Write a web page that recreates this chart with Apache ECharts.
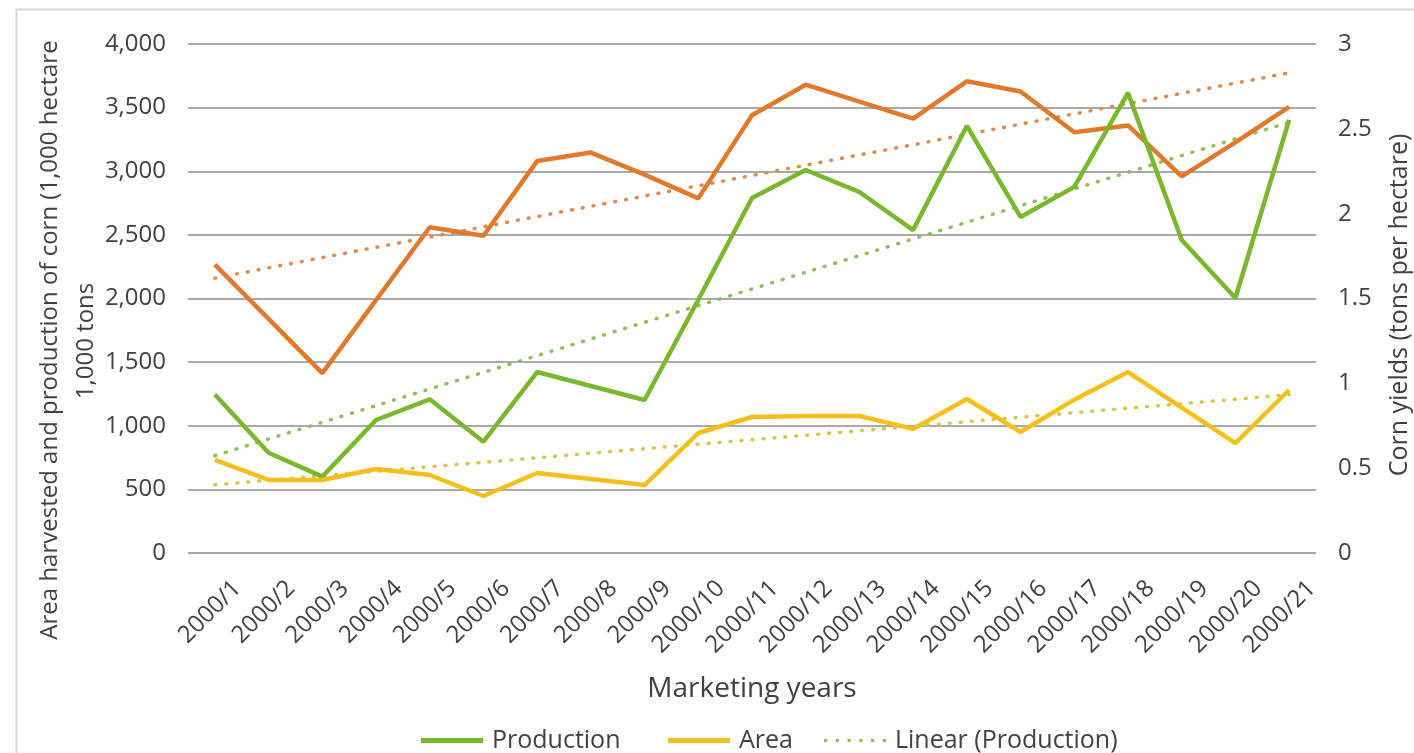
<!DOCTYPE html>
<html>
<head>
<meta charset="utf-8">
<script src="https://cdn.jsdelivr.net/npm/echarts@6/dist/echarts.min.js"></script>
<style>
html,body{margin:0;padding:0;background:#fff;overflow:hidden;width:100%;height:100%;}
#chart{width:100%;height:100%;}
</style>
</head>
<body>
<div id="chart"></div>
<script>
const categories = ['2000/1','2000/2','2000/3','2000/4','2000/5','2000/6','2000/7','2000/8','2000/9','2000/10','2000/11','2000/12','2000/13','2000/14','2000/15','2000/16','2000/17','2000/18','2000/19','2000/20','2000/21'];
const production = [1245, 788, 600, 1045, 1208, 875, 1422, 1312, 1202, 1990, 2790, 3010, 2837, 2538, 3356, 2641, 2877, 3615, 2460, 2004, 3403];
const area = [731, 574, 574, 660, 613, 448, 629, 582, 534, 943, 1069, 1077, 1077, 975, 1210, 951, 1205, 1422, 1143, 864, 1281];
const yields = [1.70, 1.38, 1.06, 1.49, 1.92, 1.87, 2.31, 2.36, 2.23, 2.09, 2.58, 2.76, 2.66, 2.56, 2.78, 2.72, 2.48, 2.52, 2.22, 2.42, 2.63];
// trend line endpoints (first and last category)
const productionTrend = [765, 3385];
const areaTrend = [536, 1244];
const yieldsTrend = [1.62, 2.83];
const leftTicks = {min: 0, max: 4000, interval: 500};
const rightTicks = {min: 0, max: 3, interval: 0.5};

const FONT = '"Open Sans", "Noto Sans", sans-serif';
const TXT = '#404040';
const GREEN = '#78b82d';
const YELLOW = '#f4bf1c';
const ORANGE = '#e07a2a';
const GREEN_DOT = '#8fbf5a';

function trend(ends){
  return [[categories[0], ends[0]], [categories[categories.length-1], ends[1]]];
}

const dotIcon = 'path://M0,0h3v3h-3z M11,0h3v3h-3z M22,0h3v3h-3z M33,0h3v3h-3z M44,0h3v3h-3z M55,0h3v3h-3z';
function legendFor(name, left, icon){
  return {
    data: [{name: name, icon: icon}],
    left: left, top: 723,
    itemWidth: 62, itemHeight: 5, itemGap: 0,
    textStyle: {fontFamily: FONT, fontSize: 25, color: TXT, padding: [0, 0, 0, 4]}
  };
}

const chart = echarts.init(document.getElementById('chart'));
chart.setOption({
  animation: false,
  backgroundColor: '#fff',
  textStyle: {fontFamily: FONT, color: TXT},
  graphic: [
    {type: 'rect', left: 14, top: 7, shape: {width: 1420, height: 770}, style: {fill: 'none', stroke: '#d4d4d4', lineWidth: 2}, z: -10},
    {type: 'text', x: 50, y: 340, rotation: Math.PI/2, style: {text: 'Area harvested and production of corn (1,000 hectare', font: '24px ' + FONT, fill: TXT, textAlign: 'center', textVerticalAlign: 'middle'}},
    {type: 'text', x: 86, y: 341, rotation: Math.PI/2, style: {text: '1,000 tons', font: '24px ' + FONT, fill: TXT, textAlign: 'center', textVerticalAlign: 'middle'}},
    {type: 'text', x: 1400, y: 305, rotation: Math.PI/2, style: {text: 'Corn yields (tons per hectare)', font: '25px ' + FONT, fill: TXT, textAlign: 'center', textVerticalAlign: 'middle'}}
  ],
  grid: {left: 188, right: 98, top: 44, bottom: 200, containLabel: false},
  legend: [
    legendFor('Production', 416, 'rect'),
    legendFor('Area', 663, 'rect'),
    legendFor('Linear (Production)', 819, dotIcon)
  ],
  xAxis: {
    type: 'category',
    data: categories,
    boundaryGap: true,
    axisLine: {show: false},
    axisTick: {show: false},
    axisLabel: {rotate: 45, interval: 0, fontSize: 24, color: TXT, fontFamily: FONT, margin: 9,
      verticalAlign: 'top', padding: [20, 0, 0, 0]},
    name: 'Marketing years',
    nameLocation: 'middle',
    nameGap: 122,
    nameTextStyle: {fontSize: 28, color: TXT, fontFamily: FONT}
  },
  yAxis: [
    {
      type: 'value', min: leftTicks.min, max: leftTicks.max, interval: leftTicks.interval,
      axisLine: {show: false}, axisTick: {show: false},
      axisLabel: {fontSize: 24, color: TXT, fontFamily: FONT, margin: 22,
        formatter: v => v.toLocaleString('en-US')},
      splitLine: {lineStyle: {color: '#8c8c8c', width: 1.5}}
    },
    {
      type: 'value', min: rightTicks.min, max: rightTicks.max, interval: rightTicks.interval,
      position: 'right',
      axisLine: {show: false}, axisTick: {show: false},
      axisLabel: {fontSize: 24, color: TXT, fontFamily: FONT, margin: 22},
      splitLine: {show: false}
    }
  ],
  series: [
    {name: 'Linear (Corn yields)', type: 'line', yAxisIndex: 1, data: trend(yieldsTrend), symbol: 'none',
      lineStyle: {color: '#e08a4a', width: 3.5, type: [1, 10], cap: 'round'}, z: 1},
    {name: 'Linear (Production)', type: 'line', yAxisIndex: 0, data: trend(productionTrend), symbol: 'none',
      itemStyle: {color: GREEN_DOT},
      lineStyle: {color: GREEN_DOT, width: 3.5, type: [1, 10], cap: 'round'}, z: 1},
    {name: 'Linear (Area)', type: 'line', yAxisIndex: 0, data: trend(areaTrend), symbol: 'none',
      lineStyle: {color: '#d9c44a', width: 3.5, type: [1, 10], cap: 'round'}, z: 1},
    {name: 'Corn yields', type: 'line', yAxisIndex: 1, data: yields, symbol: 'none',
      itemStyle: {color: ORANGE}, lineStyle: {color: ORANGE, width: 4.5}, z: 3},
    {name: 'Production', type: 'line', yAxisIndex: 0, data: production, symbol: 'none',
      itemStyle: {color: GREEN}, lineStyle: {color: GREEN, width: 4.5}, z: 3},
    {name: 'Area', type: 'line', yAxisIndex: 0, data: area, symbol: 'none',
      itemStyle: {color: YELLOW}, lineStyle: {color: YELLOW, width: 4.5}, z: 3}
  ]
});
</script>
</body>
</html>
